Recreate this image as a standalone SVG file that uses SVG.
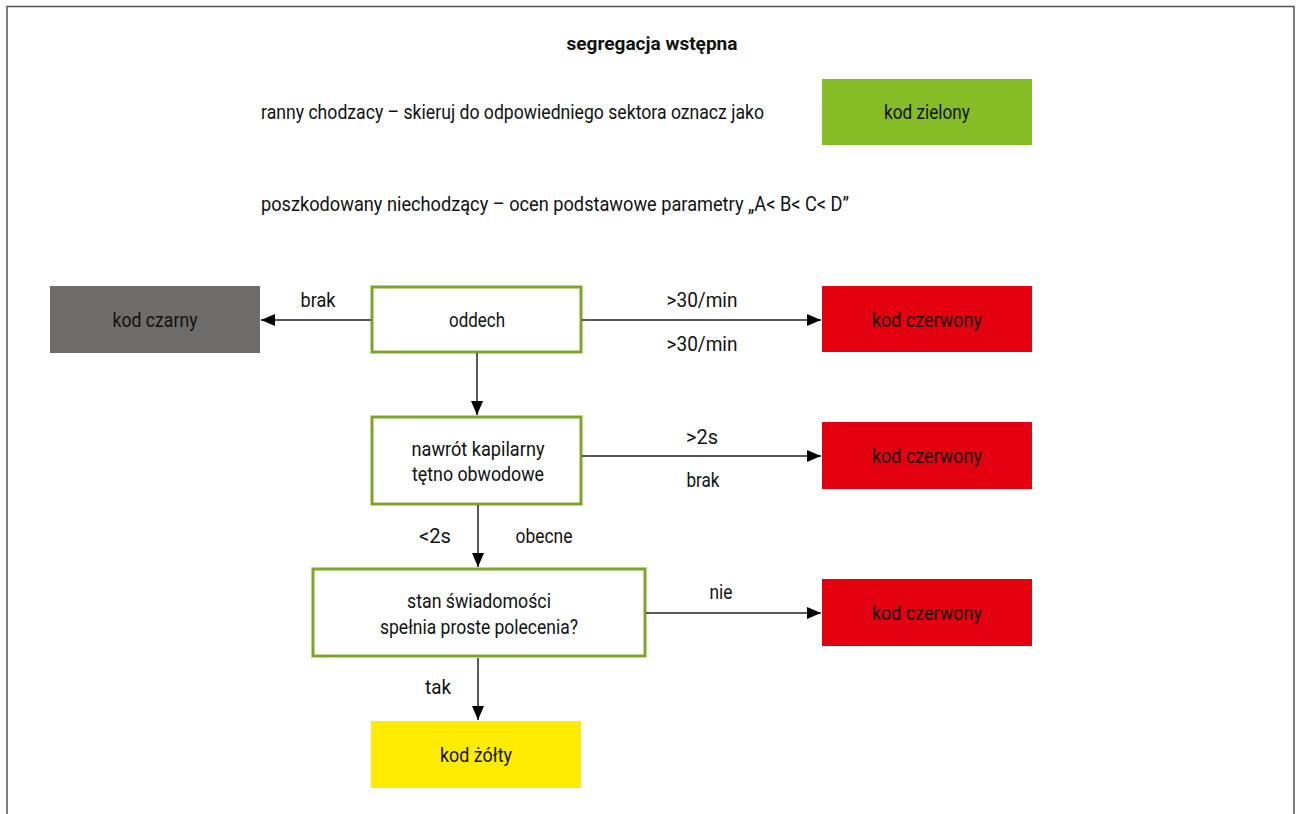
<svg xmlns="http://www.w3.org/2000/svg" width="1301" height="814" viewBox="0 0 1301 814">
<defs>
<marker id="arr" viewBox="0 0 14 12" refX="14" refY="6" markerWidth="14" markerHeight="12" markerUnits="userSpaceOnUse" orient="auto">
<path d="M0,0 L14,6 L0,12 Z" fill="#000"/>
</marker>
<style>
text{font-family:"Roboto","Liberation Sans",sans-serif;font-size:20px;fill:#111}
.c{text-anchor:middle}
.b{font-weight:bold;font-size:19px}
.q{fill:#fff;stroke:#7ea52a;stroke-width:3}
.r{fill:#e3000f}
.ln{stroke:#222;stroke-width:1.5;fill:none;marker-end:url(#arr)}
.frame{stroke:#555;stroke-width:1.5;fill:none}
</style>
</defs>
<rect width="1301" height="814" fill="#fff"/>
<path class="frame" d="M7,814 V6.5 H1294 V814"/>
<text class="c b" x="652" y="50" textLength="171" lengthAdjust="spacingAndGlyphs">segregacja wstępna</text>
<text x="261" y="119" textLength="503" lengthAdjust="spacingAndGlyphs">ranny chodzacy – skieruj do odpowiedniego sektora oznacz jako</text>
<text x="261" y="211" textLength="588" lengthAdjust="spacingAndGlyphs">poszkodowany niechodzący – ocen podstawowe parametry „A&lt; B&lt; C&lt; D”</text>
<g id="zielony"><rect x="822" y="79" width="210" height="66" fill="#86bc25"/><text class="c" x="927" y="119" textLength="86" lengthAdjust="spacingAndGlyphs">kod zielony</text></g>
<g id="czarny"><rect x="50" y="286" width="210" height="67" fill="#6d6c6a"/><text class="c" x="155" y="327" textLength="85" lengthAdjust="spacingAndGlyphs">kod czarny</text></g>
<g id="oddech"><rect class="q" x="372" y="287" width="209" height="65"/><text class="c" x="477" y="327" textLength="56" lengthAdjust="spacingAndGlyphs">oddech</text></g>
<g id="czerwony1"><rect class="r" x="822" y="286" width="210" height="66"/><text class="c" x="927" y="327" textLength="110" lengthAdjust="spacingAndGlyphs">kod czerwony</text></g>
<g id="nawrot"><rect class="q" x="372" y="417" width="209" height="87"/><text class="c" x="478" y="456" textLength="133" lengthAdjust="spacingAndGlyphs">nawrót kapilarny</text><text class="c" x="478" y="481" textLength="132" lengthAdjust="spacingAndGlyphs">tętno obwodowe</text></g>
<g id="czerwony2"><rect class="r" x="822" y="422" width="210" height="67"/><text class="c" x="927" y="463" textLength="110" lengthAdjust="spacingAndGlyphs">kod czerwony</text></g>
<g id="stan"><rect class="q" x="313" y="569" width="332" height="87"/><text class="c" x="479" y="608" textLength="144" lengthAdjust="spacingAndGlyphs">stan świadomości</text><text class="c" x="479" y="634" textLength="198" lengthAdjust="spacingAndGlyphs">spełnia proste polecenia?</text></g>
<g id="czerwony3"><rect class="r" x="822" y="579" width="210" height="67"/><text class="c" x="927" y="620" textLength="110" lengthAdjust="spacingAndGlyphs">kod czerwony</text></g>
<g id="zolty"><rect x="371" y="721" width="210" height="67" fill="#ffec00"/><text class="c" x="476" y="762" textLength="72" lengthAdjust="spacingAndGlyphs">kod żółty</text></g>
<g id="connectors">
<line class="ln" x1="371" y1="320" x2="261" y2="320"/>
<line class="ln" x1="582" y1="320" x2="821" y2="320"/>
<line class="ln" x1="477" y1="353" x2="477" y2="415"/>
<line class="ln" x1="582" y1="456" x2="821" y2="456"/>
<line class="ln" x1="478" y1="505" x2="478" y2="567"/>
<line class="ln" x1="646" y1="613" x2="821" y2="613"/>
<line class="ln" x1="478" y1="658" x2="478" y2="720"/>
</g>
<g id="labels">
<text class="c" x="318" y="307" textLength="35" lengthAdjust="spacingAndGlyphs">brak</text>
<text class="c" x="702" y="307" textLength="71" lengthAdjust="spacingAndGlyphs">&gt;30/min</text>
<text class="c" x="702" y="351" textLength="71" lengthAdjust="spacingAndGlyphs">&gt;30/min</text>
<text class="c" x="702" y="444" textLength="32" lengthAdjust="spacingAndGlyphs">&gt;2s</text>
<text class="c" x="703" y="487" textLength="33" lengthAdjust="spacingAndGlyphs">brak</text>
<text class="c" x="435" y="543" textLength="32" lengthAdjust="spacingAndGlyphs">&lt;2s</text>
<text class="c" x="544" y="543" textLength="57" lengthAdjust="spacingAndGlyphs">obecne</text>
<text class="c" x="721" y="599" textLength="23" lengthAdjust="spacingAndGlyphs">nie</text>
<text class="c" x="438" y="694" textLength="26" lengthAdjust="spacingAndGlyphs">tak</text>
</g>
</svg>
